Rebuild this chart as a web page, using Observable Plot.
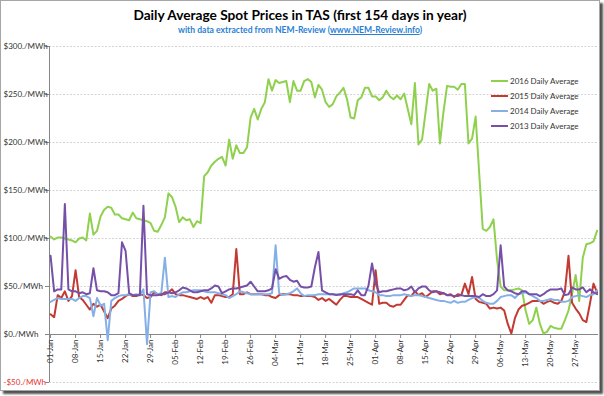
<!DOCTYPE html>
<html><head><meta charset="utf-8">
<script src="https://cdn.jsdelivr.net/npm/d3@7"></script>
<script src="https://cdn.jsdelivr.net/npm/@observablehq/plot@0.6"></script>
<style>
body{margin:0;background:#fff;font-family:Lato,"Open Sans",sans-serif;}
#frame{position:absolute;left:0;top:0;width:598px;height:389px;border:1px solid #a6a6a6;box-shadow:3px 3px 2px #505050;background:#fff;}
#title{position:absolute;top:6px;left:0;width:600px;text-align:center;font-weight:bold;font-size:13.7px;color:#000;}
#sub{position:absolute;top:25px;left:0;width:600px;text-align:center;font-weight:bold;font-size:8.6px;color:#2a7fd4;}
#sub u{color:#2a7fd4;}
#chart{position:absolute;left:0;top:36px;}
#legend{position:absolute;left:491px;top:74px;font-size:8px;color:#333;}
.row{height:14.8px;display:flex;align-items:center;}
.sw{width:17px;height:2px;margin-right:2px;}
</style></head><body>
<div id="frame"></div>
<div id="title">Daily Average Spot Prices in TAS (first 154 days in year)</div>
<div id="sub">with data extracted from NEM-Review (<u>www.NEM-Review.info</u>)</div>
<div id="chart"></div>
<div id="legend"></div>
<script>
const seriesNames = ["2016 Daily Average", "2015 Daily Average", "2014 Daily Average", "2013 Daily Average"];
const seriesColors = ["#8fd14f", "#c23b32", "#85b0e6", "#7650a8"];

const green2016 = [102,99,101,101,100,99,98,96,100,101,
98,126,104,108,123,130,133,132,125,125,
121,120,119,127,121,120,119,118,116,108,
107,114,122,147,143,133,117,122,119,120,
112,118,116,165,169,176,180,183,185,176,
203,183,197,189,189,195,226,235,224,235,
242,266,254,265,262,263,264,242,264,254,
254,264,266,263,247,260,255,242,237,240,
248,252,257,245,226,225,244,247,257,257,
248,248,244,247,254,248,245,249,245,251,
235,219,262,198,203,232,261,254,256,199,
232,259,258,258,255,261,261,199,204,227,
168,110,108,112,120,78,50,46,46,46,
47,48,46,25,11,15,28,11,1,3,
9,7,6,6,15,25,42,62,35,80,
94,95,97,108];

const red2015 = [21,18,41,38,45,35,40,67,39,36,
31,26,32,29,31,24,17,27,30,35,
37,40,42,40,40,42,41,38,39,44,
42,41,44,44,47,42,41,41,40,39,
38,37,39,37,39,33,41,41,40,39,
39,42,89,42,42,44,42,42,42,42,
41,41,39,38,41,42,42,42,41,41,
40,40,40,40,39,36,38,35,37,34,
31,36,40,40,39,39,39,37,35,33,
31,67,32,33,33,30,29,31,31,36,
41,40,45,41,43,39,42,45,45,42,
43,41,42,39,42,41,53,42,60,37,
34,33,32,27,28,27,28,25,11,1,
17,26,30,31,33,35,35,35,32,34,
35,33,32,35,45,82,33,27,22,15,
13,32,53,44];

const blue2014 = [34,36,38,37,37,37,37,35,38,40,
40,38,19,38,30,32,-6,35,38,40,
41,41,42,41,42,41,47,-10,44,45,
42,43,80,39,40,39,42,44,44,45,
46,46,46,45,44,44,44,43,42,41,
38,40,42,45,44,43,42,42,42,42,
42,42,43,93,43,41,42,43,45,48,
43,40,41,41,41,42,42,42,42,42,
42,41,43,44,46,48,48,48,48,46,
45,44,41,41,40,40,41,41,41,42,
41,40,41,41,40,39,38,37,36,35,
35,34,33,35,33,34,34,36,38,39,
38,35,33,32,32,35,39,40,41,41,
38,42,43,44,42,40,38,35,35,36,
37,36,36,34,34,35,39,40,41,40,
39,41,42,46];

const purple2013 = [82,45,47,47,136,47,45,45,43,44,
42,43,69,46,45,45,44,41,41,43,
96,87,43,41,41,41,134,42,41,41,
41,42,42,44,43,44,46,49,48,46,
44,44,45,46,46,48,51,50,43,45,
47,48,48,49,50,51,55,50,45,45,
45,46,48,68,58,60,61,57,55,56,
50,49,49,50,70,86,46,44,42,42,
41,42,42,42,42,41,46,41,41,51,
74,53,44,45,45,46,47,48,48,46,
47,50,44,48,50,50,46,44,45,44,
43,41,41,40,40,41,40,40,40,40,
39,42,40,40,42,46,93,50,46,45,
43,42,45,45,42,42,42,40,42,45,
47,47,47,48,41,42,49,47,47,49,
44,47,44,42];

const yTicks = [-50, 0, 50, 100, 150, 200, 250, 300];
const yTickLabels = ["-$50./MWh", "$0./MWh", "$50./MWh", "$100./MWh", "$150./MWh", "$200./MWh", "$250./MWh", "$300./MWh"];
const xTickDays = [0,7,14,21,28,35,42,49,56,63,70,77,84,91,98,105,112,119,126,133,140,147];
const xTickLabels = ["01-Jan","08-Jan","15-Jan","22-Jan","29-Jan","05-Feb","12-Feb","19-Feb","26-Feb","04-Mar","11-Mar","18-Mar","25-Mar","01-Apr","08-Apr","15-Apr","22-Apr","29-Apr","06-May","13-May","20-May","27-May"];

const xDomain = [-0.3, 153.4];
const yData = yTicks.map((v, i) => ({v, label: yTickLabels[i]}));
const xData = xTickDays.map((d, i) => ({d, label: xTickLabels[i]}));
const lineOpts = (arr, color) => Plot.line(arr, {x: (d, i) => i, y: d => d, stroke: color, strokeWidth: 2, strokeLinejoin: "round"});

const chart = Plot.plot({
  width: 604, height: 360,
  marginLeft: 49, marginRight: 6, marginTop: 10, marginBottom: 14,
  x: {domain: xDomain, axis: null},
  y: {domain: [-50, 300], axis: null},
  style: {fontFamily: "Lato, 'Open Sans', sans-serif", fontSize: "8px", background: "transparent", overflow: "visible"},
  marks: [
    Plot.ruleY(yData.filter(d => d.v !== 0), {y: "v", stroke: "#d4d4d4", strokeDasharray: "2,1.5"}),
    Plot.ruleY(yData, {y: "v", x1: xDomain[0], x2: xDomain[0], insetLeft: -4, stroke: "#868686"}),
    Plot.ruleX([xDomain[0]], {stroke: "#868686"}),
    Plot.ruleY([0], {stroke: "#868686"}),
    Plot.ruleX(xData, {x: "d", y1: 0, y2: 0, insetBottom: -4, stroke: "#868686"}),
    Plot.text(xData, {x: "d", y: 0, text: "label", rotate: -90, textAnchor: "end", dy: 5, fill: "#333", fontSize: 8}),
    Plot.text(yData.filter(d => d.v >= 0), {y: "v", frameAnchor: "left", text: "label", textAnchor: "start", dx: -46, fill: "#333", fontSize: 8}),
    Plot.text(yData.filter(d => d.v < 0), {y: "v", frameAnchor: "left", text: "label", textAnchor: "start", dx: -46, fill: "#e8322d", fontSize: 8}),
    lineOpts(green2016, seriesColors[0]),
    lineOpts(red2015, seriesColors[1]),
    lineOpts(blue2014, seriesColors[2]),
    lineOpts(purple2013, seriesColors[3])
  ]
});
document.getElementById("chart").appendChild(chart);

const leg = document.getElementById("legend");
seriesNames.forEach((n, i) => {
  const r = document.createElement("div");
  r.className = "row";
  r.innerHTML = `<span class="sw" style="background:${seriesColors[i]}"></span><span>${n}</span>`;
  leg.appendChild(r);
});
</script>
</body></html>
